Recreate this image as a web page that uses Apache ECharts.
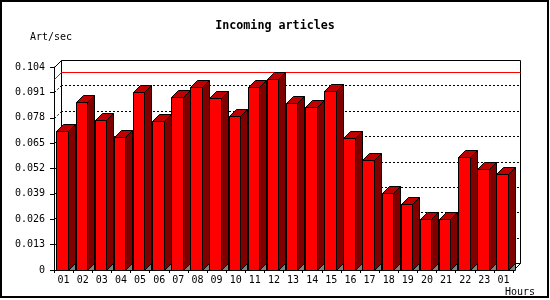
<!DOCTYPE html>
<html>
<head>
<meta charset="utf-8">
<script src="https://cdn.jsdelivr.net/npm/echarts@6/dist/echarts.min.js"></script>
<style>html,body{margin:0;padding:0;background:#fff}#c{width:550px;height:300px}</style>
</head>
<body>
<div id="c"></div>
<script>
var hours = ['01','02','03','04','05','06','07','08','09','10','11','12','13','14','15','16','17','18','19','20','21','22','23','01'];
var articles = [0.0714,0.0859,0.0767,0.0681,0.0910,0.0762,0.0885,0.0936,0.0880,0.0787,0.0936,0.0977,0.0854,0.0834,0.0917,0.0675,0.0562,0.0393,0.0337,0.0263,0.0263,0.0577,0.0516,0.0490];
var yTicks = [0,0.013,0.026,0.039,0.052,0.065,0.078,0.091,0.104];
var titleText = 'Incoming articles';
var yUnit = 'Art/sec';
var xUnit = 'Hours';

var D = 7;
var FONT = 'DejaVu Sans Mono';
var maxVal = Math.max.apply(null, articles);
function px(v){ return Math.round(v) + 0.5; }

var chart = echarts.init(document.getElementById('c'), null, {renderer:'canvas'});

function renderWalls(params, api){
  var cs = params.coordSys;
  var x0 = Math.round(cs.x), x1 = Math.round(cs.x + cs.width);
  var yT = Math.round(cs.y), yB = Math.round(cs.y + cs.height);
  var ch = [];
  ch.push({type:'rect', shape:{x:x0+D+0.5, y:yT-D+0.5, width:x1-x0, height:yB-yT}, style:{fill:'#fff', stroke:'#000', lineWidth:1}});
  for (var k = 1; k < yTicks.length - 1; k++){
    var yf = Math.round(api.coord([0, yTicks[k]])[1]);
    ch.push({type:'line', shape:{x1:x0+D, y1:yf-D+0.5, x2:x1+D, y2:yf-D+0.5}, style:{stroke:'#000', lineWidth:1, lineDash:[2,2]}});
    ch.push({type:'line', shape:{x1:x0+0.5, y1:yf+0.5, x2:x0+D+0.5, y2:yf-D+0.5}, style:{stroke:'#000', lineWidth:1, lineDash:[2,2]}});
  }
  ch.push({type:'line', shape:{x1:x0+0.5, y1:yT+0.5, x2:x0+D+0.5, y2:yT-D+0.5}, style:{stroke:'#000', lineWidth:1}});
  ch.push({type:'line', shape:{x1:x1+0.5, y1:yB+0.5, x2:x1+D+0.5, y2:yB-D+0.5}, style:{stroke:'#000', lineWidth:1}});
  var ym = Math.round(api.coord([0, maxVal])[1]);
  ch.push({type:'line', shape:{x1:x0+D+0.5, y1:ym-D+0.5, x2:x1+D+0.5, y2:ym-D+0.5}, style:{stroke:'#ff0000', lineWidth:1}});
  ch.push({type:'line', shape:{x1:x0+0.5, y1:ym+0.5, x2:x0+D+0.5, y2:ym-D+0.5}, style:{stroke:'#ff0000', lineWidth:1}});
  return {type:'group', children:ch};
}

function renderBar(params, api){
  var i = api.value(0), v = api.value(1);
  var base = api.coord([i, 0]);
  var top = api.coord([i, v]);
  var bw = api.size([1, 0])[0];
  var start = base[0] - bw / 2;
  var fl = px(start + bw * 0.13);
  var fr = px(start + bw * 0.13 + bw * 0.6);
  var y0 = px(base[1]);
  var yt = px(top[1]);
  return {type:'group', children:[
    {type:'polygon', shape:{points:[[fr,y0],[fr+D,y0-D],[fr+D,y0]]}, style:{fill:'#808080', stroke:'#000', lineWidth:1}},
    {type:'polygon', shape:{points:[[fr,yt],[fr+D,yt-D],[fr+D,y0-D],[fr,y0]]}, style:{fill:'#800000', stroke:'#000', lineWidth:1}},
    {type:'polygon', shape:{points:[[fl,yt],[fl+D,yt-D],[fr+D,yt-D],[fr,yt]]}, style:{fill:'#c00000', stroke:'#000', lineWidth:1}},
    {type:'rect', shape:{x:fl, y:yt, width:fr-fl, height:y0-yt}, style:{fill:'#ff0000', stroke:'#000', lineWidth:1}}
  ]};
}

var option = {
  animation: false,
  backgroundColor: '#fff',
  title: {
    text: titleText, left: 'center', top: 20, padding: 0,
    textStyle: {fontFamily: FONT, fontSize: 11.7, fontWeight: 'bold', color: '#000'}
  },
  grid: {left: 54, top: 67, width: 459, height: 203, containLabel: false},
  xAxis: {
    type: 'category', data: hours, boundaryGap: true,
    axisLine: {lineStyle: {color: '#000', width: 1}},
    axisTick: {show: true, length: 3, lineStyle: {color: '#000'}},
    axisLabel: {interval: 0, margin: 5, fontFamily: FONT, fontSize: 10, color: '#000'},
    splitLine: {show: false}
  },
  yAxis: {
    type: 'value', min: yTicks[0], max: yTicks[yTicks.length-1], interval: yTicks[1] - yTicks[0],
    axisLine: {show: true, lineStyle: {color: '#000', width: 1}},
    axisTick: {show: true, length: 4, lineStyle: {color: '#000'}},
    axisLabel: {margin: 9, fontFamily: FONT, fontSize: 10, color: '#000',
      formatter: function(v){ return Math.abs(v) < 1e-9 ? '0' : v.toFixed(3); }},
    splitLine: {show: false}
  },
  series: [
    {type: 'custom', renderItem: renderWalls, data: [[0, 0]], z: 1, silent: true, clip: false},
    {type: 'custom', renderItem: renderBar, data: articles.map(function(v, i){ return [i, v]; }), z: 2, clip: false,
     encode: {x: 0, y: 1}}
  ],
  graphic: [
    {type: 'rect', shape: {x: 1, y: 1, width: 547, height: 296}, style: {fill: 'none', stroke: '#000', lineWidth: 2}, z: 100},
    {type: 'text', style: {text: yUnit, x: 30, y: 37, verticalAlign: 'middle', fontFamily: FONT, fontSize: 10, fill: '#000'}},
    {type: 'text', style: {text: xUnit, x: 505, y: 292, verticalAlign: 'middle', fontFamily: FONT, fontSize: 10, fill: '#000'}}
  ]
};
chart.setOption(option);
</script>
</body>
</html>
